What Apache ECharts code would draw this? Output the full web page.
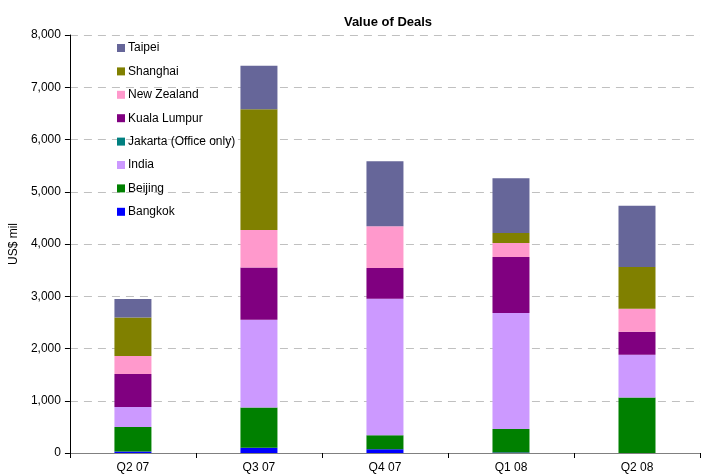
<!DOCTYPE html>
<html><head><meta charset="utf-8">
<script src="https://cdn.jsdelivr.net/npm/echarts@6/dist/echarts.min.js"></script>
<style>html,body{margin:0;padding:0;background:#fff}#c{width:709px;height:475px}</style>
</head><body><div id="c"></div>
<script>
const categories = ['Q2 07','Q3 07','Q4 07','Q1 08','Q2 08'];
const bangkok  = [30, 100, 70, 10, 0];
const beijing  = [470, 770, 270, 450, 1060];
const india    = [380, 1680, 2610, 2220, 820];
const jakarta  = [0, 0, 0, 0, 0];
const kualaLumpur = [630, 1000, 590, 1070, 440];
const newZealand  = [345, 720, 800, 270, 440];
const shanghai = [740, 2310, 0, 190, 800];
const taipei   = [350, 830, 1245, 1050, 1170];
const seriesNames = ['Bangkok','Beijing','India','Jakarta (Office only)','Kuala Lumpur','New Zealand','Shanghai','Taipei'];
const seriesData = [bangkok, beijing, india, jakarta, kualaLumpur, newZealand, shanghai, taipei];
const colors = ['#0000FF','#008000','#CC99FF','#008080','#800080','#FF99CC','#808000','#666699'];
const yTicks = [0,1000,2000,3000,4000,5000,6000,7000,8000];

const FONT = 'Liberation Sans, Arial, sans-serif';
const chart = echarts.init(document.getElementById('c'));
chart.setOption({
  animation: false,
  title: {text: 'Value of Deals', left: 383, textAlign: 'center', top: 11,
    textStyle: {fontFamily: FONT, fontSize: 13, fontWeight: 'bold', color: '#000'}},
  grid: {left: 67, right: 9, top: 35, bottom: 22},
  legend: {
    orient: 'vertical', left: 112, top: 37,
    data: seriesNames.slice().reverse(),
    itemWidth: 8, itemHeight: 8, itemGap: 11.4, icon: 'rect',
    textStyle: {fontFamily: FONT, fontSize: 12, color: '#000', lineHeight: 12, padding: [0,0,0,-2]}
  },
  xAxis: {
    type: 'category', data: categories,
    axisLine: {lineStyle: {color: '#808080', width: 1}},
    axisTick: {show: true, length: 5, lineStyle: {color: '#000'}},
    axisLabel: {fontFamily: FONT, fontSize: 12, color: '#000', margin: 9}
  },
  yAxis: {
    type: 'value', min: 0, max: 8000, interval: 1000,
    name: 'US$ mil', nameLocation: 'middle', nameGap: 46, nameRotate: 90,
    nameTextStyle: {fontFamily: FONT, fontSize: 12, color: '#000'},
    axisLine: {show: true, lineStyle: {color: '#000'}},
    axisTick: {show: true, length: 5, lineStyle: {color: '#000'}},
    axisLabel: {fontFamily: FONT, fontSize: 12, color: '#000', margin: 9,
      formatter: v => yTicks.includes(v) ? v.toLocaleString('en-US') : ''},
    splitLine: {lineStyle: {color: '#C0C0C0', type: [8,6], width: 1}}
  },
  series: seriesNames.map((n, i) => ({
    name: n, type: 'bar', stack: 'total', barWidth: 37,
    data: seriesData[i], itemStyle: {color: colors[i]}
  }))
});
</script></body></html>
